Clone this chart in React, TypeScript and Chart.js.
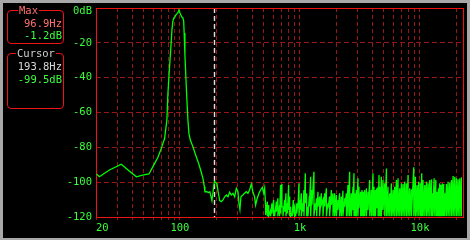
import React, { useEffect, useRef } from "react";
import { Chart, registerables } from "chart.js";

Chart.register(...registerables);

// ---- data ----
const TONE_HZ = [20.2, 21.3, 25.9, 32.5, 37.6, 43.4, 48.9, 55.2, 59.6, 65.6, 70.0, 74.6, 77.9, 79.4, 80.9, 82.5, 84.1, 85.8, 87.4, 89.1, 90.8, 92.6, 94.4, 96.2, 98.1, 100, 101.9, 103.9, 105.9, 107.5, 108.5, 110.1, 112.2, 114.4, 116.6, 118.9, 122.1, 128.3, 135.2, 143.2, 148.8, 155.5, 159.7, 161.5, 166.8, 173.4, 177.8, 184.8, 188.3, 193.8, 198.4, 203.5, 207.5, 214.3, 221.5, 228.5, 235.9, 243.8, 251.3, 259.5, 268.2, 276.8, 285.8, 295.2, 304.6, 310.4, 316.2, 322.3, 334.7, 345.4, 357.4, 368.5, 380.5, 393.3, 405.5, 419.0, 427.3, 438.4, 455.5, 470.4, 486.6, 498.9, 508.0];
const TONE_DB = [-95.3, -96.9, -93.0, -89.7, -93.4, -96.9, -96.0, -95.3, -91.1, -85.7, -80.6, -74.8, -64.3, -49.4, -40.2, -31.0, -22.4, -12.6, -7.5, -5.7, -5.2, -4.0, -3.4, -2.7, -1.2, -2.7, -4.0, -5.2, -5.7, -7.5, -14.4, -27.0, -40.2, -52.8, -64.3, -72.0, -75.8, -79.6, -84.4, -89.2, -93.0, -97.8, -102.6, -105.5, -105.4, -105.9, -105.6, -110.6, -106.2, -99.5, -100.2, -100.8, -104.9, -110.6, -111.2, -110.2, -108.4, -107.4, -108.4, -105.8, -107.4, -106.4, -108.4, -103.5, -105.5, -112.2, -115.6, -108.4, -107.4, -106.4, -105.5, -106.4, -104.5, -101.1, -105.5, -108.4, -113.1, -109.8, -106.4, -104.5, -103.0, -106.4, -103.5];

const NOISE_HZ = [
  518, 535, 549, 570, 584, 604, 615, 636, 655, 677, 690, 708, 722, 746, 765, 785, 805, 821, 837, 858,
  881, 903, 921, 939, 962, 981, 1000, 1027, 1053, 1080, 1109, 1137, 1166, 1197, 1228, 1259, 1308, 1343, 1377, 1413,
  1459, 1508, 1555, 1606, 1660, 1711, 1768, 1827, 1884,
  1946, 2010, 2072, 2142, 2212, 2281, 2358, 2436, 2512, 2595, 2681, 2765, 2818, 2894, 2951, 3043, 3102, 3204, 3286, 3374,
  3462, 3577, 3689, 3811, 3937, 4060, 4139, 4252, 4361, 4472, 4558, 4676, 4767, 4918, 5083, 5253, 5418, 5595, 5782, 5966,
  6159, 6366, 6567,
  6780, 7005, 7226, 7463, 7713, 7956, 8215, 8490, 8873, 9160, 9450, 9760, 10083, 10341, 10604, 10957, 11322, 11674, 12061, 12465,
  12700, 13118, 13550, 13900, 14265, 14615, 14980, 15370, 15770, 16088, 16620, 17150, 17709, 18300, 18880, 19494, 20140, 20780, 21458, 22170,
];
const NOISE_PEAK_DB = [
  -114.1, -111.2, -113.1, -116.0, -112.2, -110.2, -116.0, -111.2, -109.3, -113.1, -101.6, -101.1, -114.1, -110.2, -106.4, -112.2, -101.6, -108.3, -114.1, -117.9,
  -110.2, -114.1, -117.9, -112.2, -112.2, -100.7, -110.2, -106.4, -112.2, -104.5, -94.9, -106.4, -114.1, -108.3, -96.9, -104.5, -94.0, -112.2, -109.3, -105.5,
  -108.3, -106.4, -110.2, -106.4, -103.5, -112.2, -108.3, -104.5, -106.4,
  -106.4, -107.4, -110.2, -106.4, -108.3, -104.9, -109.3, -106.4, -101.6, -94.0, -106.4, -102.6, -94.9, -106.4, -104.5, -97.8, -102.6, -105.5, -104.5, -105.5,
  -104.5, -103.5, -105.5, -98.8, -104.5, -94.9, -102.6, -104.5, -103.5, -102.6, -95.9, -102.6, -96.9, -98.8, -100.7, -92.1, -102.6, -106.4, -100.7, -104.5,
  -102.6, -98.8, -97.8,
  -103.5, -100.7, -101.1, -99.7, -100.7, -95.9, -103.5, -104.1, -91.5, -96.9, -101.6, -99.7, -100.7, -94.9, -98.8, -101.6, -99.7, -100.7, -98.8, -98.4,
  -106.4, -97.8, -98.8, -105.5, -103.5, -100.7, -101.6, -100.7, -101.1, -106.4, -101.1, -99.7, -100.3, -98.8, -96.5, -96.9, -97.8, -98.4, -97.8, -97.2,
];
const NOISE_FLOOR_DB = [
  -118.8, -119.5, -119.5, -119.5, -118.0, -119.5, -119.5, -117.0, -119.5, -119.5, -118.0, -114.0, -119.5, -117.0, -119.5, -118.0, -116.0, -119.5, -119.5, -119.5,
  -117.0, -119.5, -119.5, -118.0, -115.0, -119.5, -116.0, -119.5, -117.0, -119.5, -112.0, -119.5, -119.5, -114.0, -119.5, -113.0, -119.5, -116.0, -119.5, -114.0,
  -119.5, -113.0, -119.5, -114.0, -119.5, -115.0, -119.5, -113.0, -119.5,
  -119.5, -119.5, -116.0, -119.5, -119.5, -119.5, -114.0, -119.5, -119.5, -119.5, -119.5, -116.0, -119.5, -119.5, -119.5, -119.5, -115.0, -119.5, -119.5, -119.5,
  -119.5, -119.5, -116.0, -119.5, -119.5, -119.5, -119.5, -119.5, -115.0, -119.5, -119.5, -119.5, -119.5, -116.0, -119.5, -119.5, -119.5, -119.5, -119.5, -119.5,
  -119.5, -119.5, -119.5,
  -119.5, -119.5, -119.5, -119.5, -119.5, -119.5, -119.5, -119.5, -119.5, -119.5, -119.5, -119.5, -119.5, -119.5, -119.5, -119.5, -119.5, -119.5, -119.5, -119.5,
  -119.5, -119.5, -119.5, -119.5, -119.5, -119.5, -119.5, -119.5, -119.5, -119.5, -119.5, -119.5, -119.5, -119.5, -119.5, -119.5, -119.5, -119.5, -119.5, -119.5,
];

const X_MIN_HZ = 20;
const X_MAX_HZ = 22600;
const X_GRID_HZ = [20, 30, 40, 50, 60, 70, 80, 90, 100, 200, 300, 400, 500, 600, 700, 800, 900, 1000, 2000, 3000, 4000, 5000, 6000, 7000, 8000, 9000, 10000, 20000];
const X_LABEL_HZ = [20, 100, 1000, 10000];
const X_LABEL_TEXT = ["20", "100", "1k", "10k"];
const Y_TICK_DB = [-120, -100, -80, -60, -40, -20, 0];
const Y_TICK_TEXT = ["-120", "-100", "-80", "-60", "-40", "-20", "0dB"];

const MAX_HZ = 96.9;
const MAX_DB = -1.2;
const CURSOR_HZ = 193.8;
const CURSOR_DB = -99.5;

// ---- style ----
const FONT = '"DejaVu Sans Mono", "Liberation Mono", monospace';
const TRACE = "#00ff00";
const LABEL = "#3cff3c";
const GRID = "#981616";
const FRAME = "#ee1414";
const PINK = "#ff7070";

export default function App() {
  const canvasRef = useRef<HTMLCanvasElement | null>(null);

  useEffect(() => {
    const canvas = canvasRef.current;
    if (!canvas) return;
    const points: { x: number; y: number }[] = [];
    for (let i = 0; i < TONE_HZ.length; i++) points.push({ x: TONE_HZ[i], y: TONE_DB[i] });
    for (let i = 0; i < NOISE_HZ.length; i++) {
      points.push({ x: NOISE_HZ[i], y: NOISE_PEAK_DB[i] });
      points.push({ x: NOISE_HZ[i], y: NOISE_FLOOR_DB[i] });
    }

    const framePlugin = {
      id: "frameAndCursor",
      beforeDatasetsDraw(chart: any) {
        const { ctx, chartArea } = chart;
        const l = Math.round(chartArea.left), t = Math.round(chartArea.top);
        const r = Math.round(chartArea.right), b = Math.round(chartArea.bottom);
        ctx.save();
        const cx = Math.round(chart.scales.x.getPixelForValue(CURSOR_HZ)) + 0.5;
        ctx.strokeStyle = "#f2d8d8";
        ctx.lineWidth = 1.4;
        ctx.setLineDash([5, 3]);
        ctx.beginPath();
        ctx.moveTo(cx, t);
        ctx.lineTo(cx, b);
        ctx.stroke();
        ctx.setLineDash([]);
        ctx.strokeStyle = FRAME;
        ctx.lineWidth = 1;
        ctx.strokeRect(l + 0.5, t + 0.5, r - l, b - t);
        ctx.restore();
      },
    };

    const chart = new Chart(canvas, {
      type: "line",
      data: {
        datasets: [
          {
            data: points,
            borderColor: TRACE,
            borderWidth: 1.3,
            pointRadius: 0,
            tension: 0,
            fill: false,
          },
        ],
      },
      options: {
        animation: false,
        responsive: false,
        maintainAspectRatio: false,
        events: [],
        layout: { padding: { left: 0, top: 8, right: 7.5, bottom: 0 } },
        plugins: { legend: { display: false }, tooltip: { enabled: false } },
        scales: {
          x: {
            type: "logarithmic",
            min: X_MIN_HZ,
            max: X_MAX_HZ,
            afterBuildTicks: (s: any) => {
              s.ticks = X_GRID_HZ.map((v) => ({ value: v }));
            },
            afterFit: (s: any) => {
              s.height = 23;
              s.paddingLeft = 0;
              s.paddingRight = 0;
            },
            ticks: {
              autoSkip: false,
              maxRotation: 0,
              minRotation: 0,
              align: "inner",
              padding: 2,
              color: LABEL,
              font: { family: FONT, size: 10.5 },
              callback: (v: any) => {
                const i = X_LABEL_HZ.indexOf(Number(v));
                return i >= 0 ? X_LABEL_TEXT[i] : "";
              },
            },
            grid: { color: GRID, lineWidth: 1, drawTicks: true, tickLength: 3, tickColor: GRID, tickBorderDash: [] },
            border: { display: false, dash: [4, 3] },
          },
          y: {
            type: "linear",
            min: -120,
            max: 0,
            afterBuildTicks: (s: any) => {
              s.ticks = Y_TICK_DB.map((v) => ({ value: v }));
            },
            afterFit: (s: any) => {
              s.width = 96;
              s.paddingTop = 0;
              s.paddingBottom = 0;
            },
            ticks: {
              padding: 4,
              color: LABEL,
              font: (ctx: any) => ({
                family: FONT,
                size: 10.5,
                lineHeight: ctx.tick && ctx.tick.value === 0 ? "6px" : 1.2,
              }),
              callback: (v: any) => {
                const i = Y_TICK_DB.indexOf(Number(v));
                const t = i >= 0 ? Y_TICK_TEXT[i] : "";
                return Number(v) === 0 ? ["", t] : t;
              },
            },
            grid: { color: GRID, lineWidth: 1, drawTicks: false },
            border: { display: false, dash: [5, 3] },
          },
        },
      },
      plugins: [framePlugin],
    } as any);
    return () => chart.destroy();
  }, []);

  const txt: React.CSSProperties = {
    position: "absolute",
    fontFamily: FONT,
    fontSize: 10.5,
    lineHeight: "12px",
    whiteSpace: "pre",
  };
  const box: React.CSSProperties = {
    position: "absolute",
    left: 7,
    width: 57,
    border: `1px solid ${FRAME}`,
    borderRadius: 4,
    boxSizing: "border-box",
  };

  return (
    <div style={{ position: "fixed", left: 0, top: 0, width: 470, height: 240, background: "#000", overflow: "hidden" }}>
      <canvas ref={canvasRef} width={470} height={240} style={{ position: "absolute", left: 0, top: 0, display: "block" }} />
      <div style={{ ...box, top: 10, height: 34 }}>
        <span style={{ ...txt, left: 10, top: -7, color: PINK, background: "#000", padding: "0 1px" }}>Max</span>
        <span style={{ ...txt, right: 1, top: 6, color: PINK }}>{MAX_HZ.toFixed(1)}Hz</span>
        <span style={{ ...txt, right: 1, top: 18, color: LABEL }}>{MAX_DB.toFixed(1)}dB</span>
      </div>
      <div style={{ ...box, top: 53, height: 56 }}>
        <span style={{ ...txt, left: 8, top: -7, color: "#d0d0d0", background: "#000", padding: "0 1px" }}>Cursor</span>
        <span style={{ ...txt, right: 1, top: 6, color: "#d8d8d8" }}>{CURSOR_HZ.toFixed(1)}Hz</span>
        <span style={{ ...txt, right: 1, top: 19, color: LABEL }}>{CURSOR_DB.toFixed(1)}dB</span>
      </div>
      <div
        style={{
          position: "absolute",
          left: 0,
          top: 0,
          width: 470,
          height: 240,
          boxSizing: "border-box",
          borderStyle: "solid",
          borderColor: "#a8a8a8",
          borderWidth: "3px 3px 2px 3px",
          pointerEvents: "none",
        }}
      />
    </div>
  );
}
